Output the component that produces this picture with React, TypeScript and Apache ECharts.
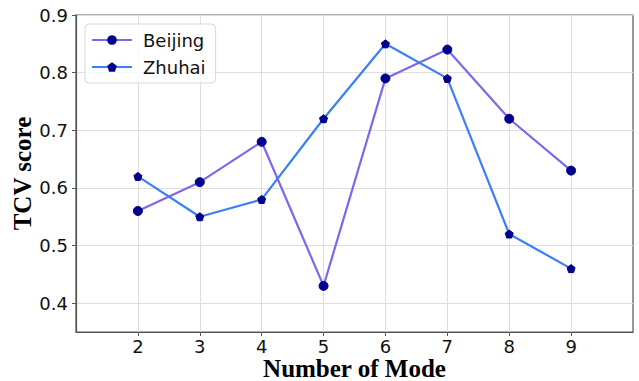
import React, { useEffect, useRef } from "react";
import * as echarts from "echarts";

const modes = [2, 3, 4, 5, 6, 7, 8, 9];
const beijing = [0.56, 0.61, 0.68, 0.43, 0.79, 0.84, 0.72, 0.63];
const zhuhai = [0.62, 0.55, 0.58, 0.72, 0.85, 0.79, 0.52, 0.46];
const yTicks = [0.4, 0.5, 0.6, 0.7, 0.8, 0.9];

export default function App() {
  const ref = useRef<HTMLDivElement>(null);
  useEffect(() => {
    const chart = echarts.init(ref.current!, undefined, { renderer: "svg" });
    const tickFont = { fontFamily: "DejaVu Sans", fontSize: 18, color: "#111" };
    const titleFont = { fontFamily: "Liberation Serif", fontSize: 25, fontWeight: "bold" as const, color: "#000" };
    chart.setOption({
      animation: false,
      backgroundColor: "#fff",
      grid: {
        left: 76, right: 6, top: 15, bottom: 49,
        outerBoundsMode: "none",
        containLabel: false,
        show: true, borderColor: "#555", borderWidth: 1.2,
      },
      legend: {
        left: 85,
        top: 24,
        orient: "vertical",
        itemWidth: 40,
        itemHeight: 12,
        itemGap: 9,
        padding: [7, 10, 7, 6],
        borderColor: "#d8d8d8",
        borderWidth: 1,
        borderRadius: 4,
        backgroundColor: "rgba(255,255,255,0.8)",
        textStyle: { fontFamily: "DejaVu Sans", fontSize: 18, color: "#111", padding: [0, 0, 0, 6] },
        data: ["Beijing", "Zhuhai"],
      },
      xAxis: {
        type: "value",
        min: 1,
        max: 10,
        interval: 1,
        name: "Number of Mode",
        nameLocation: "middle",
        nameGap: 24,
        nameMoveOverlap: false,
        nameTextStyle: { ...titleFont, verticalAlign: "top", lineHeight: 25 },
        axisLine: { show: true, lineStyle: { color: "#555", width: 1.2 } },
        axisTick: { show: true, length: 4, lineStyle: { color: "#555" }, customValues: modes },
        axisLabel: { ...tickFont, lineHeight: 17, margin: 6, customValues: modes },
        splitLine: { show: true, lineStyle: { color: "#dedede", width: 1 } },
      },
      yAxis: {
        type: "value",
        min: 0.35,
        max: 0.9,
        name: "TCV score",
        nameLocation: "middle",
        nameGap: 41,
        nameMoveOverlap: false,
        nameTextStyle: titleFont,
        axisLine: { show: true, lineStyle: { color: "#555", width: 1.2 } },
        axisTick: { show: true, length: 4, lineStyle: { color: "#555" }, customValues: yTicks },
        axisLabel: { ...tickFont, margin: 8, customValues: yTicks, formatter: (v: number) => v.toFixed(1) },
        splitLine: { show: true, lineStyle: { color: "#dedede", width: 1 } },
      },
      series: [
        {
          name: "Beijing",
          type: "line",
          data: modes.map((m, i) => [m, beijing[i]]),
          symbol: "circle",
          symbolSize: 9,
          lineStyle: { color: "#7b68ee", width: 2.2 },
          itemStyle: { color: "#00008b", borderColor: "#00008b" },
          color: "#7b68ee",
        },
        {
          name: "Zhuhai",
          type: "line",
          data: modes.map((m, i) => [m, zhuhai[i]]),
          symbol: "path://M0,-10 L9.51,-3.09 L5.88,8.09 L-5.88,8.09 L-9.51,-3.09 Z",
          symbolSize: 8,
          lineStyle: { color: "#3a7ff6", width: 2.2 },
          itemStyle: { color: "#00008b", borderColor: "#00008b" },
          color: "#3a7ff6",
        },
      ],
    });
    return () => chart.dispose();
  }, []);
  return <div ref={ref} style={{ width: 639, height: 381, position: "absolute", left: 0, top: 0 }} />;
}
